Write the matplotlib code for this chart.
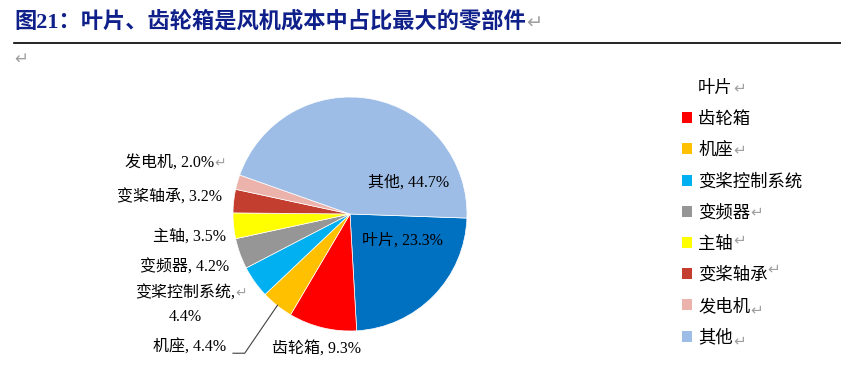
import matplotlib
matplotlib.use("Agg")
from matplotlib import pyplot as plt
from matplotlib.patches import Patch

# 数据
componentes = ['叶片', '齿轮箱', '机座', '变桨控制系统', '变频器', '主轴', '变桨轴承', '发电机', '其他']
porcentajes = [23.3, 9.3, 4.4, 4.4, 4.2, 3.5, 3.2, 2.0, 44.7]
colores = ['#0070C0', '#FF0000', '#FFC000', '#00B0F0', '#969696', '#FFFF00', '#C43E2F', '#EBB3AB', '#9DBDE6']

titulo = '图21：叶片、齿轮箱是风机成本中占比最大的零部件'

fuente = ['Liberation Serif', 'Noto Sans CJK SC', 'DejaVu Sans']
fuente_cjk = ['Noto Sans CJK SC', 'DejaVu Sans']
plt.rcParams['font.family'] = fuente
gris = '#A0A0A0'

fig = plt.figure(figsize=(8.41, 3.82), dpi=100)
renderer = fig.canvas.get_renderer()


def marca_parrafo(t, dy=0, size=9):
    # agrega el simbolo ↵ gris a la derecha de un texto
    bb = t.get_window_extent(renderer)
    fig.text(bb.x1 / fig.bbox.width, (bb.y0 + bb.y1) / 2 / fig.bbox.height + dy / 382, '↵',
             fontsize=size, color=gris, va='center', ha='left', family=fuente_cjk)


# titulo y linea
t_titulo = fig.text(14 / 841, 1 - 22 / 382, titulo, fontsize=16, fontweight='bold', color='#10208A',
                    va='center', ha='left', family=fuente)
marca_parrafo(t_titulo, dy=-1, size=14)
fig.add_artist(plt.Line2D([14 / 841, 1], [1 - 43 / 382, 1 - 43 / 382], color='black', lw=1.2))
fig.text(14 / 841, 1 - 59 / 382, '↵', fontsize=12, color=gris, va='center', family=fuente_cjk)

# pie
ax = fig.add_axes([233 / 841, 51 / 382, 234 / 841, 234 / 382])
wedges, _ = ax.pie(porcentajes, colors=colores, startangle=-2, counterclock=False,
                   wedgeprops=dict(edgecolor='white', linewidth=0.5), radius=1)
ax.set_xlim(-1, 1)
ax.set_ylim(-1, 1)
ax.set_aspect('equal')
ax.axis('off')

# posiciones de las etiquetas (coordenadas del eje)
pos_etiquetas = [(0.45, -0.23), (-0.29, -1.15), (-1.37, -1.14), (-1.41, -0.78), (-1.41, -0.46),
                 (-1.37, -0.19), (-1.54, 0.14), (-1.54, 0.43), (0.50, 0.27)]

for i, (nombre, p) in enumerate(zip(componentes, porcentajes)):
    x, y = pos_etiquetas[i]
    if nombre == '变桨控制系统':
        t1 = ax.text(x, y + 0.1, nombre + ',', ha='center', va='center', fontsize=11.5,
                     clip_on=False, family=fuente)
        ax.text(x, y - 0.1, '%.1f%%' % p, ha='center', va='center', fontsize=11.5,
                clip_on=False, family=fuente)
        marca_parrafo(t1, size=10)
        continue
    t = ax.text(x, y, '%s, %.1f%%' % (nombre, p), ha='center', va='center', fontsize=11.5,
                clip_on=False, family=fuente)
    if nombre == '发电机':
        marca_parrafo(t, size=10)

# linea guia para 机座
ax.plot([-0.62, -0.90, -1.00], [-0.78, -1.19, -1.19], color='#404040', lw=0.8, clip_on=False)

# leyenda
handles = [Patch(facecolor=c, edgecolor='none') for c in colores]
handles[0] = Patch(facecolor='none', edgecolor='none')
leg = fig.legend(handles, componentes, loc='upper left', bbox_to_anchor=(666 / 841, 1 - 63 / 382),
                 frameon=False, handlelength=0.6, handleheight=0.6, handletextpad=0.35,
                 labelspacing=0.76, prop={'family': fuente_cjk, 'size': 12.5})

# marcas ↵ en la leyenda
fig.canvas.draw()
desplaz = {'叶片': 0, '机座': 0, '变频器': 0, '主轴': 4, '变桨轴承': 6, '发电机': -4, '其他': -4}
for t in leg.get_texts():
    if t.get_text() in desplaz:
        marca_parrafo(t, dy=desplaz[t.get_text()], size=11)

plt.savefig('out.png', dpi=100)
